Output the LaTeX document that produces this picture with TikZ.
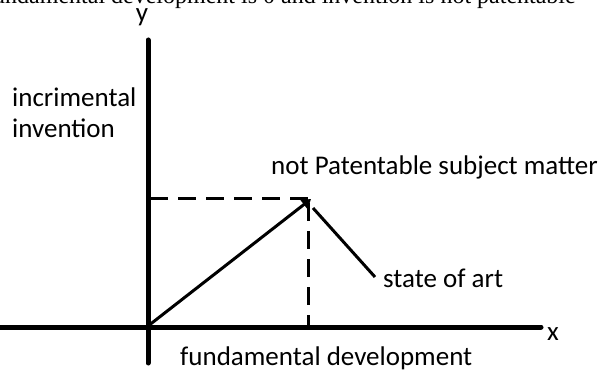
\documentclass[tikz,border=0pt]{standalone}
\usepackage{fontspec}
\setmainfont{Carlito}
\newfontfamily\serifcap{Liberation Serif}
\usetikzlibrary{arrows.meta}
\tikzset{
  axis/.style={line width=5pt, line cap=round},
  solidline/.style={line width=3pt},
  dashline/.style={line width=3pt, dash pattern=on 18pt off 10pt},
  lbl/.style={inner sep=0pt, font=\fontsize{27}{32}\selectfont, anchor=base west},
}
\begin{document}
\begin{tikzpicture}[x=1pt,y=-1pt]
\useasboundingbox (0,0) rectangle (599,371);
\begin{scope}
\clip (0,0) rectangle (599,371);
\node[inner sep=0pt, anchor=base west, font=\serifcap\fontsize{24}{28}\selectfont] (top) at (-15,4) {fundamental development is 0 and invention is not patentable};
\end{scope}
% key points
\coordinate (O) at (148,326);
\coordinate (ytop) at (148,40);
\coordinate (ybot) at (148,363);
\coordinate (xleft) at (0,327);
\coordinate (xright) at (541,327);
\coordinate (P) at (311,199);
\coordinate (Hstart) at (150,199);
\coordinate (Vtop) at (308,203);
\coordinate (Vbot) at (308,326);
\coordinate (S1) at (313,208);
\coordinate (S2) at (375,277);
% axes
\draw[axis] (ytop) -- (ybot);
\draw[axis] (xleft) -- (xright);
% dashed guides
\draw[dashline] (Hstart) -- (P);
\draw[dashline] (Vtop) -- (Vbot);
% arrow and state line
\draw[solidline, -{Triangle[length=9pt,width=11pt]}] (O) -- (P);
\draw[solidline] (S1) -- (S2);
% labels
\node[lbl, anchor=base] (ylab) at (142,22) {y};
\node[lbl] (xlab) at (547,340) {x};
\node[lbl] (inc) at (12,107) {incrimental};
\node[lbl] (inv) at (12,138) {invention};
\node[lbl] (npat) at (271,175) {not Patentable subject matter};
\node[lbl] (soa) at (383,287) {state of art};
\node[lbl] (fund) at (180,365) {fundamental development};
\end{tikzpicture}
\end{document}
